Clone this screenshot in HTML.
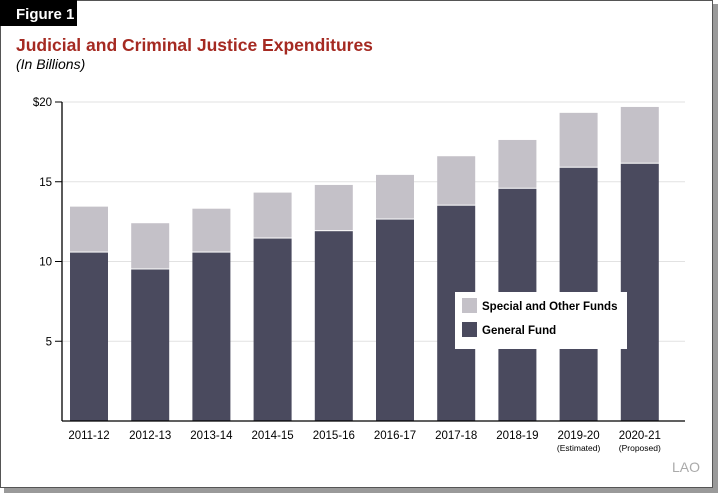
<!DOCTYPE html>
<html><head><meta charset="utf-8"><style>
body{margin:0;background:#fff;}
svg text{font-family:"Liberation Sans",Arial,sans-serif;}
</style></head><body>
<svg width="720" height="495" viewBox="0 0 720 495">
<rect x="4" y="4" width="714" height="489" fill="#9a9a9a"/>
<rect x="0.5" y="0.5" width="712" height="487" fill="#fff" stroke="#555" stroke-width="1"/>
<rect x="0" y="0" width="77" height="26" fill="#000"/>
<text x="16" y="19" fill="#fff" font-size="15" font-weight="bold">Figure 1</text>
<text x="16" y="51" fill="#a52a22" font-size="17.5" font-weight="bold">Judicial and Criminal Justice Expenditures</text>
<text x="16" y="69" fill="#000" font-size="14" font-style="italic">(In Billions)</text>
<g id="grid"></g><g id="bars"></g><g id="axes"></g>
<g>
<rect x="455" y="292" width="172" height="57" fill="#fff"/>
<rect x="462" y="298" width="15" height="15" fill="#c4c1c8"/>
<text x="482" y="310" font-size="11.5" font-weight="bold">Special and Other Funds</text>
<rect x="462" y="322" width="15" height="15" fill="#4a4a5e"/>
<text x="482" y="334" font-size="11.5" font-weight="bold">General Fund</text>
</g>
<text x="700" y="472" text-anchor="end" fill="#aaa" font-size="14" font-family="Liberation Serif">LAO</text>
</svg>
<script>
const categories=["2011-12","2012-13","2013-14","2014-15","2015-16","2016-17","2017-18","2018-19","2019-20","2020-21"];
const subLabels=["","","","","","","","","(Estimated)","(Proposed)"];
const generalFund=[10.56,9.5,10.56,11.44,11.9,12.63,13.5,14.56,15.88,16.13];
const specialFunds=[2.88,2.9,2.75,2.88,2.9,2.8,3.1,3.06,3.44,3.56];
const yTicks=[5,10,15,20];
const ns="http://www.w3.org/2000/svg";
const x0=62,x1=685,yBase=421,yTop=102,maxV=20;
const y=v=>yBase-(v/maxV)*(yBase-yTop);
const step=61.2;
const cx=i=>89+step*i;
const bw=38;
function mk(t,a,p){const e=document.createElementNS(ns,t);for(const k in a)e.setAttribute(k,a[k]);p.appendChild(e);return e;}
const grid=document.getElementById('grid'),bars=document.getElementById('bars'),axes=document.getElementById('axes');
yTicks.forEach(v=>{
 const l=mk('line',{x1:x0,x2:x1,y1:y(v),y2:y(v),stroke:'#e2e2e2','stroke-width':1},grid);
 
 
 const t=mk('line',{x1:x0-7,x2:x0,y1:y(v),y2:y(v),stroke:'#000','stroke-width':1},axes);
 
 
 const tx=mk('text',{x:x0-10,y:y(v)+4,'text-anchor':'end','font-size':11.5},axes);
 tx.textContent=(v===20?'$':'')+v;
 
 
});
categories.forEach((c,i)=>{
 const g=generalFund[i],s=specialFunds[i];
 const r1=mk('rect',{x:cx(i)-bw/2,y:y(g),width:bw,height:yBase-y(g),fill:'#4a4a5e'},bars);
 
 
 const r2=mk('rect',{x:cx(i)-bw/2,y:y(g+s),width:bw,height:y(g)-y(g+s)-1,fill:'#c4c1c8'},bars);
 
 
 const t=mk('text',{x:cx(i),y:439,'text-anchor':'middle','font-size':11.5},axes);
 t.textContent=c;
 
 
 if(subLabels[i]){const st=mk('text',{x:cx(i),y:451,'text-anchor':'middle','font-size':8.5},axes);
 st.textContent=subLabels[i];
 
 }
});
const ya=mk('line',{x1:x0,x2:x0,y1:yTop,y2:yBase,stroke:'#000','stroke-width':1.3},axes);


const xa=mk('line',{x1:x0,x2:x1,y1:yBase,y2:yBase,stroke:'#000','stroke-width':1.3},axes);


</script>
</body></html>
